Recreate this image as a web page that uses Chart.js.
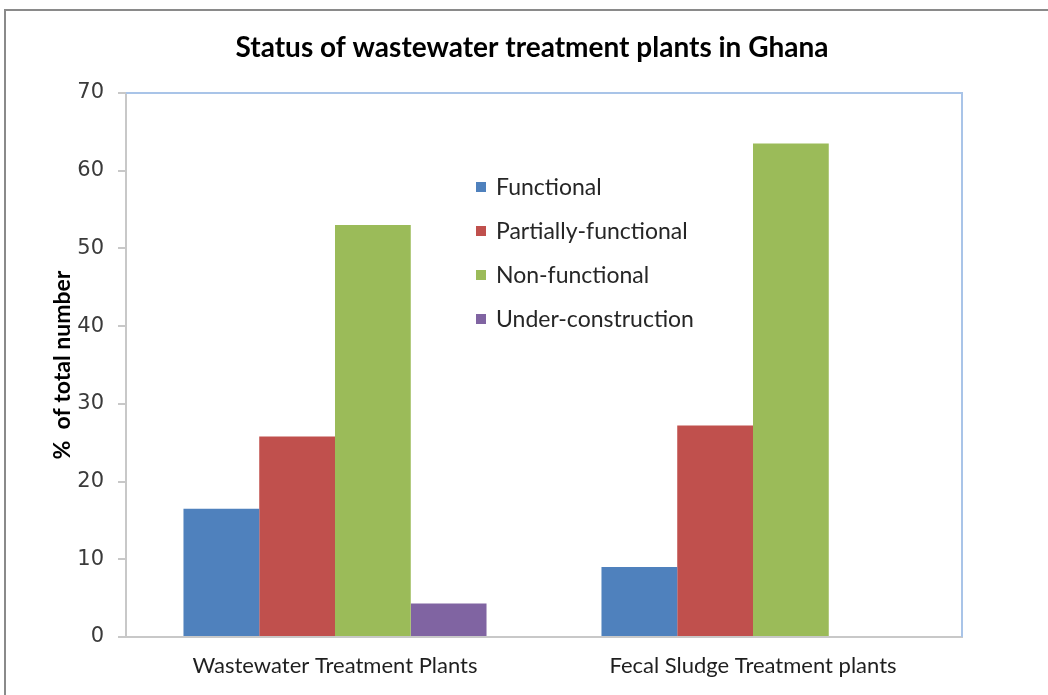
<!DOCTYPE html>
<html>
<head>
<meta charset="utf-8">
<script src="https://cdn.jsdelivr.net/npm/chart.js@4"></script>
<style>
  html, body { margin: 0; padding: 0; background: #ffffff; }
  #wrap { position: relative; width: 1048px; height: 695px; }
</style>
</head>
<body>
<div id="wrap"><canvas id="c" width="1048" height="695"></canvas></div>
<script>
const categories = ["Wastewater Treatment Plants", "Fecal Sludge Treatment plants"];
const seriesNames = ["Functional", "Partially-functional", "Non-functional", "Under-construction"];
const functional = [16.5, 9.0];
const partiallyFunctional = [25.8, 27.2];
const nonFunctional = [53.0, 63.5];
const underConstruction = [4.3, 0];
const yTicks = [0, 10, 20, 30, 40, 50, 60, 70];
const chartTitle = "Status of wastewater treatment plants in Ghana";
const yAxisTitle = "%  of total number";

const colors = ["#4f81bd", "#c0504d", "#9bbb59", "#8064a2"];
const seriesValues = [functional, partiallyFunctional, nonFunctional, underConstruction];

const FONT = "Lato, 'Open Sans', sans-serif";

const framePlugin = {
  id: 'frame',
  beforeDraw(chart) {
    const ctx = chart.ctx;
    ctx.save();
    ctx.fillStyle = '#ffffff';
    ctx.fillRect(0, 0, chart.width, chart.height);
    ctx.strokeStyle = '#8a8a8a';
    ctx.lineWidth = 2;
    ctx.strokeRect(5, 10, 1200, 900);
    ctx.restore();
  },
  afterDatasetsDraw(chart) {
    const {ctx, chartArea: a} = chart;
    ctx.save();
    ctx.strokeStyle = '#a9c4e8';
    ctx.lineWidth = 2;
    ctx.beginPath();
    ctx.moveTo(a.left, a.top);
    ctx.lineTo(a.right, a.top);
    ctx.lineTo(a.right, a.bottom);
    ctx.stroke();
    ctx.restore();
  },
  afterDraw(chart) {
    const ctx = chart.ctx;
    ctx.save();
    // title
    ctx.font = "bold 28px " + FONT;
    ctx.fillStyle = '#000000';
    ctx.textAlign = 'center';
    ctx.textBaseline = 'alphabetic';
    ctx.fillText(chartTitle, 532, 57);
    // legend
    const x0 = 476, y0 = 187, step = 44;
    ctx.font = "23px " + FONT;
    ctx.textAlign = 'left';
    ctx.textBaseline = 'middle';
    chart.data.datasets.forEach((ds, i) => {
      const y = y0 + i * step;
      ctx.fillStyle = ds.backgroundColor;
      ctx.fillRect(x0, y - 5, 10, 10);
      ctx.fillStyle = '#262626';
      ctx.fillText(ds.label, x0 + 20, y + 1);
    });
    ctx.restore();
  }
};

new Chart(document.getElementById('c'), {
  type: 'bar',
  data: {
    labels: categories,
    datasets: seriesNames.map((name, i) => ({
      label: name,
      data: seriesValues[i],
      backgroundColor: colors[i],
      borderWidth: 0,
      barPercentage: 1.0,
      categoryPercentage: 0.725
    }))
  },
  options: {
    responsive: false,
    animation: false,
    devicePixelRatio: 1,
    layout: { padding: { left: 0, right: 86, top: 93, bottom: 0 } },
    plugins: {
      legend: { display: false },
      tooltip: { enabled: false },
      title: { display: false }
    },
    scales: {
      x: {
        grid: { display: false, drawTicks: false },
        border: { display: true, color: '#c8c8c8', width: 2 },
        ticks: { color: '#1f1f1f', font: { family: FONT, size: 22 }, padding: 16, maxRotation: 0 },
        afterFit(s) { s.height = 58; }
      },
      y: {
        min: 0, max: 70,
        afterBuildTicks(s) { s.ticks = yTicks.map(v => ({ value: v })); },
        grid: { display: true, drawOnChartArea: false, drawTicks: true, tickLength: 8, color: '#c8c8c8', lineWidth: 2 },
        border: { display: true, color: '#c8c8c8', width: 2 },
        ticks: { color: '#3a3a3a', font: { family: "'DejaVu Sans', sans-serif", size: 21 }, padding: 14 },
        title: {
          display: true,
          text: yAxisTitle,
          color: '#000000',
          font: { family: FONT, size: 23, weight: 'bold' },
          padding: { top: 49, bottom: 0 }
        },
        afterFit(s) { s.width = 126; }
      }
    }
  },
  plugins: [framePlugin]
});
</script>
</body>
</html>
